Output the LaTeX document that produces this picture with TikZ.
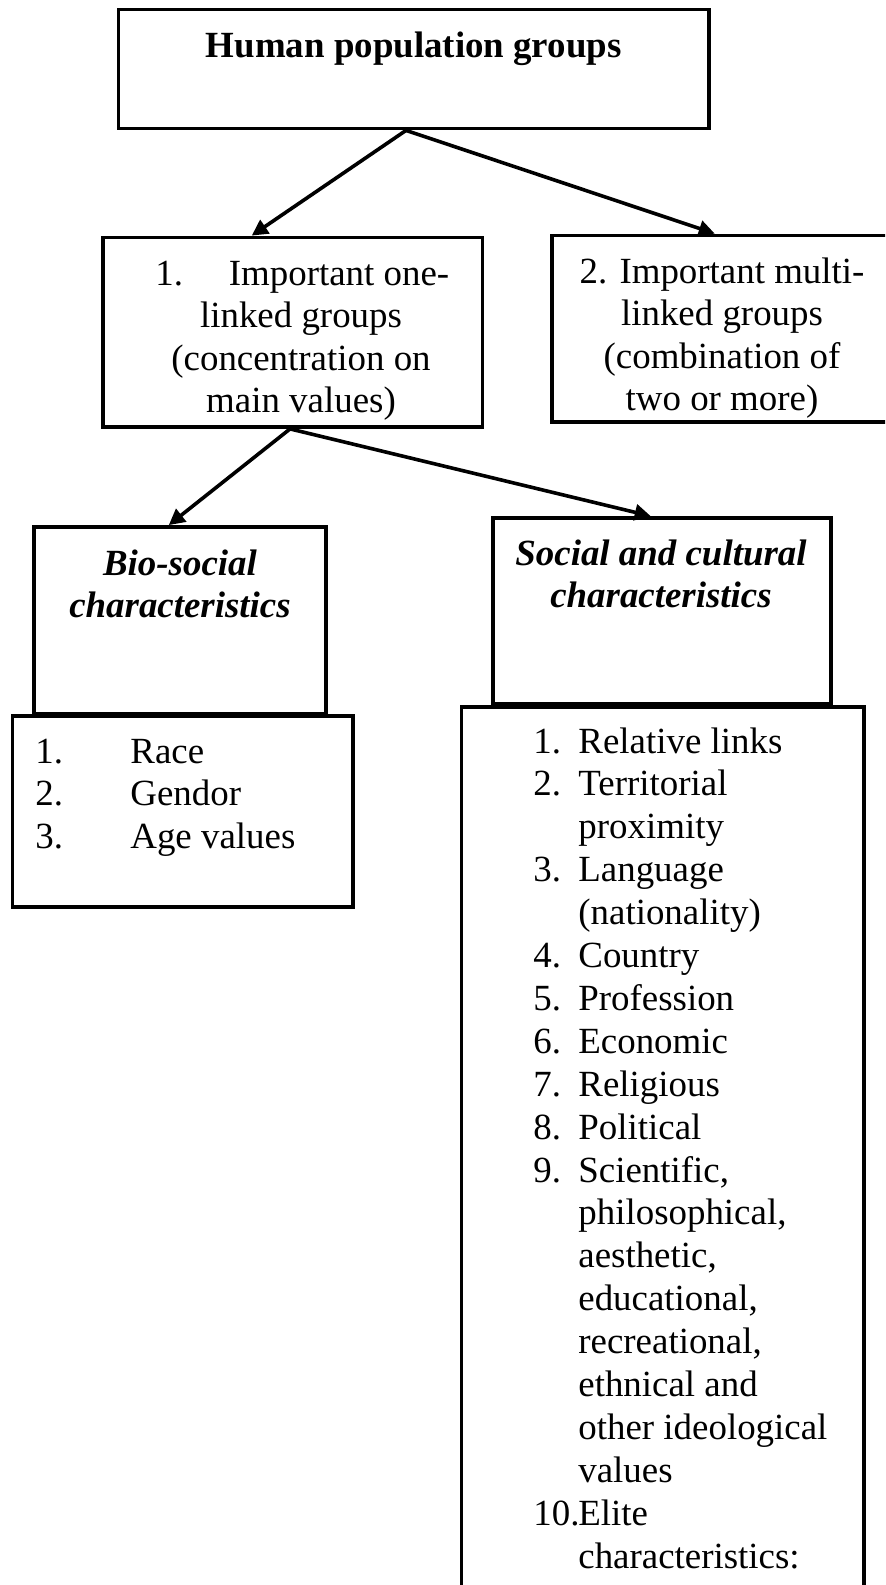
\documentclass[tikz,border=0pt]{standalone}
\usepackage{fontspec}
\setmainfont{Liberation Serif}
\usetikzlibrary{arrows.meta,calc,fit}
\begin{document}
\begin{tikzpicture}[x=0.5pt,y=-0.5pt,
  box/.style={draw, line width=1.9pt, inner sep=0pt, rectangle},
  txt/.style={inner sep=0pt, font=\fontsize{18.45}{21.4}\selectfont},
  lt/.style={txt, anchor=base west},
  ct/.style={txt, anchor=base},
  bi/.style={ct, font=\fontsize{18.45}{21.4}\selectfont\bfseries\itshape},
  arr/.style={line width=1.8pt, -{Triangle[length=8pt,width=8pt]}}]
\useasboundingbox (0,0) rectangle (885,1585);
\clip (0,0) rectangle (885,1585);

% boxes
\node[box, fit={(118.5,9.5)(709,128.5)}] (top) {};
\node[box, fit={(103,237.5)(482.5,427)}] (b1) {};
\node[box, fit={(552,235.5)(900,422)}] (b2) {};
\node[box, fit={(34,527)(326,714)}] (bio) {};
\node[box, fit={(493,518)(831,704)}] (soc) {};
\node[box, fit={(12.5,716)(353,907)}] (ll) {};
\node[box, fit={(461.5,707)(864,1620)}] (rl) {};

% texts
\node[ct, font=\fontsize{18.45}{21.4}\selectfont\bfseries] (title) at (413.75,57) {Human population groups};

\node[lt] (b1n) at (155,285) {1.};
\node[lt] (b1a) at (228.5,285) {Important one-};
\node[ct] (b1b) at (301,327) {linked groups};
\node[ct] (b1c) at (301,370) {(concentration on};
\node[ct] (b1d) at (301,412) {main values)};

\node[ct] (b2a) at (722,283) {2. Important multi-};
\node[ct] (b2b) at (722,325) {linked groups};
\node[ct] (b2c) at (722,368) {(combination of};
\node[ct] (b2d) at (722,410) {two or more)};

\node[bi] (bioa) at (180,575) {Bio-social};
\node[bi] (biob) at (180,617) {characteristics};

\node[bi] (soca) at (661,565) {Social and cultural};
\node[bi] (socb) at (661,607) {characteristics};

\foreach \n/\t [count=\i] in {1./Race, 2./Gendor, 3./Age values}{
  \node[lt] (ln\i) at (35,{763+(\i-1)*42.5}) {\n};
  \node[lt] (lt\i) at (130,{763+(\i-1)*42.5}) {\t};
}

\foreach \n/\t [count=\i] in {1./Relative links, 2./Territorial, /proximity, 3./Language,
  /(nationality), 4./Country, 5./Profession, 6./Economic, 7./Religious, 8./Political,
  {9./Scientific,}, {/philosophical,}, {/aesthetic,}, {/educational,}, {/recreational,},
  /ethnical and, /other ideological, /values, 10./Elite, /characteristics:}{
  \node[lt] (rn\i) at (533,{753+(\i-1)*42.9}) {\n};
  \node[lt] (rt\i) at (578,{753+(\i-1)*42.9}) {\t};
}

% arrows
\draw[arr] ($(top.south west)!0.487!(top.south east)$) -- ($(b1.north west)!0.393!(b1.north east)$);
\draw[arr] ($(top.south west)!0.487!(top.south east)$) -- ($(b2.north west)!0.468!(b2.north east)$);
\draw[arr] ($(b1.south west)!0.493!(b1.south east)$) -- ($(bio.north west)!0.462!(bio.north east)$);
\draw[arr] ($(b1.south west)!0.493!(b1.south east)$) -- ($(soc.north west)!0.467!(soc.north east)$);
\end{tikzpicture}
\end{document}
